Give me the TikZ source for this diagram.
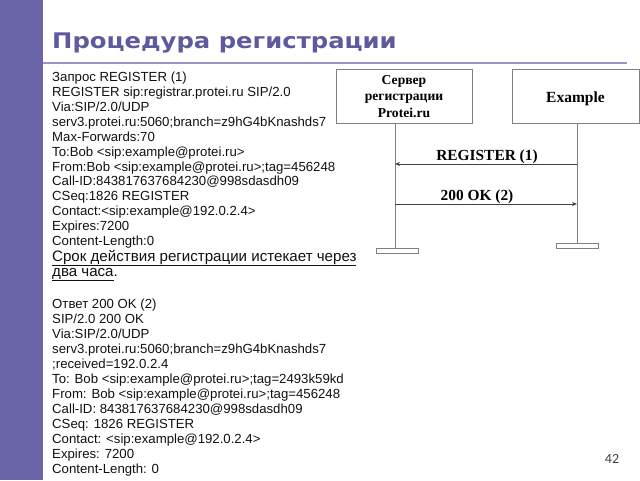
\documentclass[tikz,border=0pt]{standalone}
\usepackage{fontspec}
\setmainfont{Liberation Sans}
\newfontfamily\titlefont{DejaVu Sans}
\newfontfamily\serifbox{Liberation Serif}
\newfontfamily\numfont{Carlito}
\usetikzlibrary{arrows.meta}
\definecolor{barcol}{HTML}{6A64A8}
\definecolor{titlecol}{HTML}{5E5A9E}
\definecolor{rulecol}{HTML}{9896C6}
\definecolor{boxcol}{HTML}{808080}
\definecolor{txtcol}{HTML}{111111}
\tikzset{
  txt/.style={anchor=base west, inner sep=0pt, text=txtcol, font=\fontsize{13.2}{15}\selectfont},
  big/.style={anchor=base west, inner sep=0pt, text=txtcol, font=\fontsize{15.1}{15}\selectfont},
  actor/.style={draw=boxcol, line width=1pt, minimum height=54pt, inner sep=0pt, align=center, font=\serifbox\bfseries\fontsize{13.6}{16.5}\selectfont},
  lifeline/.style={draw=boxcol, line width=1pt},
  endbar/.style={draw=boxcol, line width=1pt, minimum width=42pt, minimum height=5pt, inner sep=0pt},
  msg/.style={draw=black!75, line width=0.8pt, -{Stealth[length=5pt,width=4pt]}},
  msglabel/.style={inner sep=0pt, anchor=base, font=\serifbox\bfseries\fontsize{15.4}{15}\selectfont}
}
\begin{document}
\begin{tikzpicture}[x=1pt,y=-1pt]
\useasboundingbox (0,0) rectangle (640,480);
\fill[barcol] (0,0) rectangle (43,480);
\node[anchor=base west, inner sep=0pt, text=titlecol, font=\titlefont\bfseries\fontsize{21.5}{24}\selectfont] (title) at (52,48) {\scalebox{1.13}[1]{Процедура регистрации}};
\draw[rulecol, line width=2pt] (43,63) -- (627,63);

% request block
\node[txt] (a1) at (52,81) {Запрос REGISTER (1)};
\node[txt] (a2) at (52,96) {REGISTER sip:registrar.protei.ru SIP/2.0};
\node[txt] (a3) at (52,111) {Via:SIP/2.0/UDP};
\node[txt] (a4) at (52,126) {serv3.protei.ru:5060;branch=z9hG4bKnashds7};
\node[txt] (a5) at (52,141) {Max-Forwards:70};
\node[txt] (a6) at (52,156) {To:Bob <sip:example@protei.ru>};
\node[txt] (a7) at (52,171) {From:Bob <sip:example@protei.ru>;tag=456248};
\node[txt] (a8) at (52,185.5) {Call-ID:843817637684230@998sdasdh09};
\node[txt] (a9) at (52,200) {CSeq:1826 REGISTER};
\node[txt] (a10) at (52,215) {Contact:<sip:example@192.0.2.4>};
\node[txt] (a11) at (52,230) {Expires:7200};
\node[txt] (a12) at (52,245) {Content-Length:0};
\node[big] (n1) at (52,261) {\underline{Срок действия регистрации истекает через}};
\node[big] (n2) at (52,276) {\underline{два часа}.};

% response block
\node[txt] (b1) at (52,308) {Ответ 200 OK (2)};
\node[txt] (b2) at (52,323) {SIP/2.0 200 OK};
\node[txt] (b3) at (52,338) {Via:SIP/2.0/UDP};
\node[txt] (b4) at (52,353) {serv3.protei.ru:5060;branch=z9hG4bKnashds7};
\node[txt] (b5) at (52,368) {;received=192.0.2.4};
\node[txt] (b6) at (52,383) {To: Bob <sip:example@protei.ru>;tag=2493k59kd};
\node[txt] (b7) at (52,398) {From: Bob <sip:example@protei.ru>;tag=456248};
\node[txt] (b8) at (52,413) {Call-ID: 843817637684230@998sdasdh09};
\node[txt] (b9) at (52,428) {CSeq: 1826 REGISTER};
\node[txt] (b10) at (52,443) {Contact: <sip:example@192.0.2.4>};
\node[txt] (b11) at (52,458) {Expires: 7200};
\node[txt] (b12) at (52,473) {Content-Length: 0};

% sequence diagram
\node[actor, minimum width=136pt] (srv) at (404,96) {\raisebox{-1.5pt}[\height][\depth]{\begin{tabular}{@{}c@{}}Сервер\\регистрации\\Protei.ru\end{tabular}}};
\node[actor, minimum width=127pt, font=\serifbox\bfseries\fontsize{15.5}{16}\selectfont] (ex) at (575.5,96) {\raisebox{-2.5pt}[\height][\depth]{Example}};
\node[endbar] (srvbar) at (397,250.5) {};
\node[endbar] (exbar) at (577,245.5) {};
\coordinate (srvtop) at (395,123);
\coordinate (srvbot) at (395,248);
\coordinate (extop) at (577,123);
\coordinate (exbot) at (577,243);
\draw[lifeline] (srvtop) -- (srvbot);
\draw[lifeline] (extop) -- (exbot);
\coordinate (r1from) at (577,164);
\coordinate (r1to) at (395,164);
\coordinate (r2from) at (395,204);
\coordinate (r2to) at (577,204);
\draw[msg] (r1from) -- (r1to);
\draw[msg] (r2from) -- (r2to);
\node[msglabel] (l1) at (487,160) {REGISTER (1)};
\node[msglabel] (l2) at (477,200) {200 OK (2)};

\node[anchor=base, inner sep=0pt, text=black!75, font=\numfont\fontsize{14}{14}\selectfont] (page) at (612,463) {42};
\end{tikzpicture}
\end{document}
